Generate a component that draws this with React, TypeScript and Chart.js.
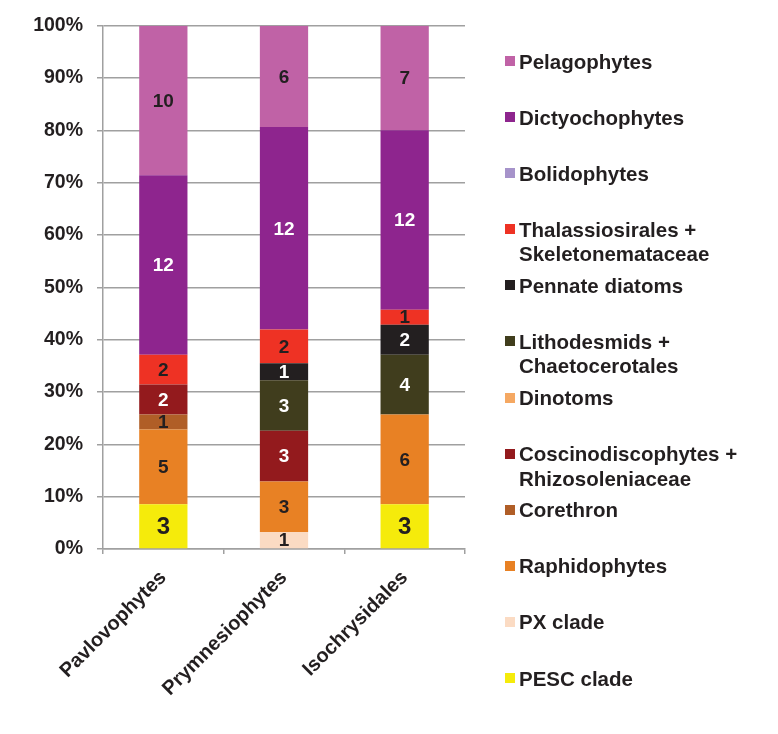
import React, { useEffect, useRef } from "react";
import { Chart, registerables } from "chart.js";

Chart.register(...registerables);

// ---------- data ----------
const categories = ["Pavlovophytes", "Prymnesiophytes", "Isochrysidales"];

// counts per category [Pavlovophytes, Prymnesiophytes, Isochrysidales]
const pescClade = [3, 0, 3];
const pxClade = [0, 1, 0];
const raphidophytes = [5, 3, 6];
const corethron = [1, 0, 0];
const coscinodiscophytes = [2, 3, 0];
const dinotoms = [0, 0, 0];
const lithodesmids = [0, 3, 4];
const pennateDiatoms = [0, 1, 2];
const thalassiosirales = [2, 2, 1];
const bolidophytes = [0, 0, 0];
const dictyochophytes = [12, 12, 12];
const pelagophytes = [10, 6, 7];

// stacking order: bottom to top
const seriesNames = [
  "PESC clade",
  "PX clade",
  "Raphidophytes",
  "Corethron",
  "Coscinodiscophytes + Rhizosoleniaceae",
  "Dinotoms",
  "Lithodesmids + Chaetocerotales",
  "Pennate diatoms",
  "Thalassiosirales + Skeletonemataceae",
  "Bolidophytes",
  "Dictyochophytes",
  "Pelagophytes",
];
const seriesCounts = [
  pescClade,
  pxClade,
  raphidophytes,
  corethron,
  coscinodiscophytes,
  dinotoms,
  lithodesmids,
  pennateDiatoms,
  thalassiosirales,
  bolidophytes,
  dictyochophytes,
  pelagophytes,
];
const seriesColors = [
  "#F5EB0B",
  "#FBDBC3",
  "#E88124",
  "#B05E27",
  "#931A1D",
  "#F5A862",
  "#403D1D",
  "#231F20",
  "#EE3224",
  "#A693CA",
  "#8E258E",
  "#C062A6",
];
const labelColors = [
  "#231F20",
  "#231F20",
  "#231F20",
  "#231F20",
  "#FFFFFF",
  "#231F20",
  "#FFFFFF",
  "#FFFFFF",
  "#231F20",
  "#231F20",
  "#FFFFFF",
  "#231F20",
];
const labelSizes = [24, 19, 19, 19, 19, 19, 19, 19, 19, 19, 19, 19];

const yTickStep = 10;
const yMax = 100;

const FONT = '"Liberation Sans", Arial, Helvetica, sans-serif';
const TEXT = "#231F20";
const GRID = "#A0A0A0";

const totals = categories.map((_, i) =>
  seriesCounts.reduce((s, arr) => s + arr[i], 0)
);

const valueLabels = {
  id: "valueLabels",
  afterDatasetsDraw(chart: any) {
    const { ctx, chartArea } = chart;
    ctx.save();
    ctx.beginPath();
    ctx.rect(
      chartArea.left,
      chartArea.top,
      chartArea.right - chartArea.left,
      chartArea.bottom - chartArea.top
    );
    ctx.clip();
    chart.data.datasets.forEach((ds: any, di: number) => {
      const meta = chart.getDatasetMeta(di);
      meta.data.forEach((el: any, i: number) => {
        const c = ds.counts[i];
        if (!c) return;
        const { x, y, base } = el.getProps(["x", "y", "base"], true);
        ctx.font = `bold ${ds.labelSize}px ${FONT}`;
        ctx.fillStyle = ds.labelColor;
        ctx.textAlign = "center";
        ctx.textBaseline = "middle";
        ctx.fillText(String(c), x, (y + base) / 2 + 1);
      });
    });
    ctx.restore();
  },
};

function splitLabel(name: string): string[] {
  const idx = name.indexOf("+ ");
  if (idx < 0) return [name];
  return [name.slice(0, idx + 1), name.slice(idx + 2)];
}

export default function App() {
  const canvasRef = useRef<HTMLCanvasElement | null>(null);

  useEffect(() => {
    const canvas = canvasRef.current;
    if (!canvas) return;
    const chart = new Chart(canvas, {
      type: "bar",
      data: {
        labels: categories,
        datasets: seriesNames.map((name, si) => ({
          label: name,
          data: seriesCounts[si].map((v, i) => (v / totals[i]) * 100),
          counts: seriesCounts[si],
          labelColor: labelColors[si],
          labelSize: labelSizes[si],
          backgroundColor: seriesColors[si],
          borderWidth: 0,
          barPercentage: 0.4,
          categoryPercentage: 1,
        })) as any,
      },
      options: {
        animation: false,
        responsive: false,
        maintainAspectRatio: false,
        layout: { padding: { left: 0, right: 313, top: 24, bottom: 0 } },
        plugins: {
          legend: { display: false },
          tooltip: { enabled: false },
          title: { display: false },
        },
        scales: {
          x: {
            stacked: true,
            grid: {
              offset: true,
              drawOnChartArea: false,
              drawTicks: true,
              tickLength: 5,
              color: GRID,
              lineWidth: 1.5,
            },
            border: { display: true, color: GRID, width: 1.5 },
            ticks: {
              minRotation: 45,
              maxRotation: 45,
              padding: 12,
              color: TEXT,
              font: { family: FONT, size: 20, weight: "bold" },
            },
            afterFit: (scale: any) => {
              scale.height = 185;
            },
          },
          y: {
            stacked: true,
            min: 0,
            max: yMax,
            ticks: {
              stepSize: yTickStep,
              padding: 14,
              color: TEXT,
              font: { family: FONT, size: 19.5, weight: "bold" },
              callback: (v: any) => `${v}%`,
            },
            grid: {
              color: GRID,
              lineWidth: 1.5,
              drawTicks: true,
              tickLength: 6,
            },
            border: { display: true, color: GRID, width: 1.5 },
            afterFit: (scale: any) => {
              scale.width = 103;
            },
          },
        },
      } as any,
      plugins: [valueLabels],
    });
    return () => chart.destroy();
  }, []);

  const legendOrder = seriesNames.map((_, i) => i).reverse();

  return (
    <div
      style={{
        position: "absolute",
        left: 0,
        top: 0,
        width: 778,
        height: 734,
        background: "#fff",
        overflow: "hidden",
      }}
    >
      <canvas
        ref={canvasRef}
        width={778}
        height={734}
        style={{ position: "absolute", left: 0, top: 0, width: 778, height: 734 }}
      />
      <div
        style={{
          position: "absolute",
          left: 505,
          top: 49.5,
          width: 270,
          fontFamily: FONT,
          fontWeight: "bold",
          fontSize: 20.5,
          lineHeight: "24.5px",
          color: TEXT,
        }}
      >
        {legendOrder.map((si) => (
          <div
            key={si}
            style={{ height: 56.1, display: "flex", alignItems: "flex-start" }}
          >
            <div
              style={{
                width: 10,
                height: 10,
                marginTop: 6.5,
                background: seriesColors[si],
                flex: "0 0 auto",
              }}
            />
            <div style={{ marginLeft: 4, whiteSpace: "nowrap" }}>
              {splitLabel(seriesNames[si]).map((line, k) => (
                <div key={k}>{line}</div>
              ))}
            </div>
          </div>
        ))}
      </div>
    </div>
  );
}
